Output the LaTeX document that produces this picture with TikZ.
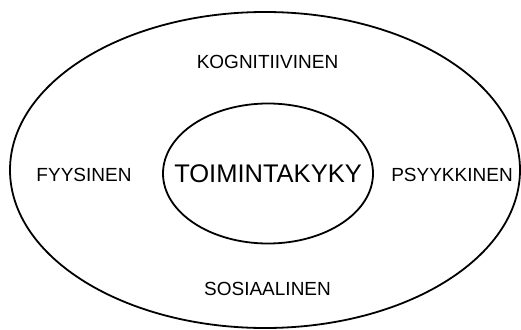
\documentclass[tikz,border=0pt]{standalone}
\usepackage{fontspec}
\setmainfont{Liberation Sans}
\begin{document}
\begin{tikzpicture}[x=1pt,y=-1pt,
  ring/.style={draw=black,line width=1.8pt},
  lbl/.style={anchor=base,inner sep=0pt,font=\fontsize{19}{21}\selectfont},
  core/.style={anchor=base,inner sep=0pt,font=\fontsize{25.5}{27}\selectfont}]
\useasboundingbox (0,0) rectangle (521,329);
\draw[ring] (265,170) ellipse [x radius=255, y radius=158];
\draw[ring] (268,173.5) ellipse [x radius=105, y radius=70];
\node[core] (tk) at (268,182.5) {TOIMINTAKYKY};
\node[lbl] (kog) at (267.5,68) {KOGNITIIVINEN};
\node[lbl] (fyy) at (84,181) {FYYSINEN};
\node[lbl] (psy) at (452,181) {PSYYKKINEN};
\node[lbl] (sos) at (267.5,295.5) {SOSIAALINEN};
\end{tikzpicture}
\end{document}
